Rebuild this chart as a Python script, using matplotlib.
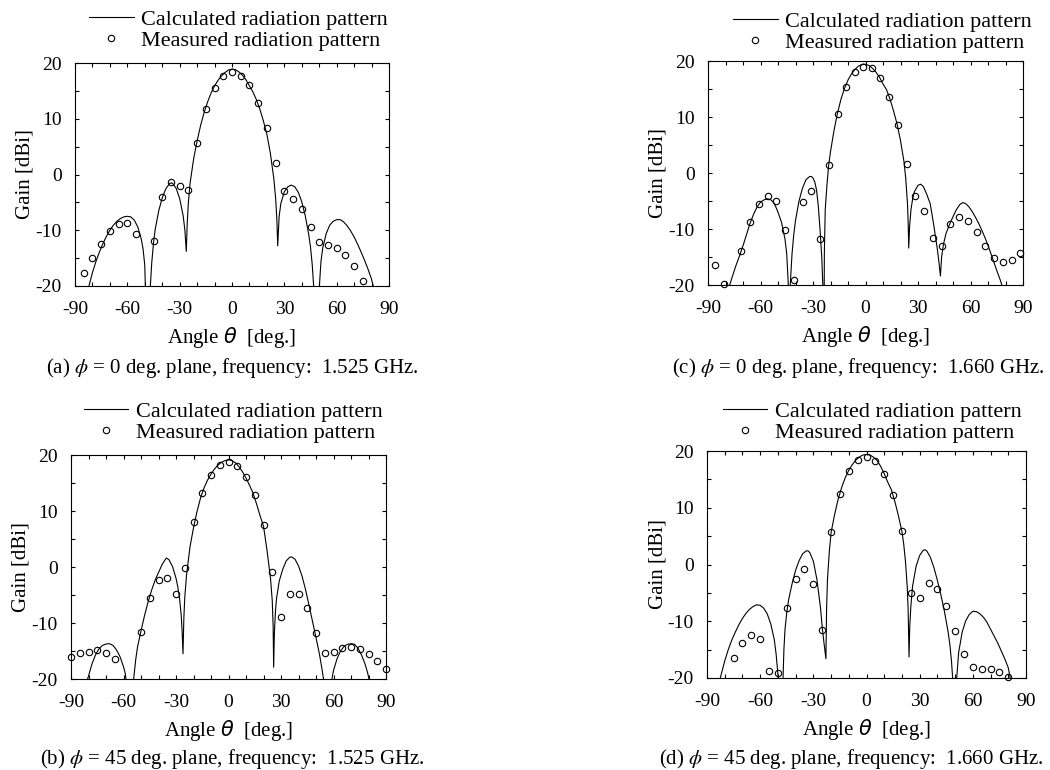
import matplotlib
matplotlib.use('Agg')
import matplotlib.pyplot as plt
from matplotlib.ticker import MultipleLocator

# (a) phi = 0 deg. plane, 1.525 GHz
thetaCalcA = [-84, -82, -80, -78, -76, -74, -72, -70, -68, -66, -64, -62, -60, -58, -56, -54, -52, -51, -50, -49.5, -48.5,
              -47.5, -46.8, -46, -45, -44, -42, -40, -38, -36, -35, -34, -32, -30, -28, -27, -26.2,
              -25.7, -25, -24, -22, -20, -18, -16, -14, -12, -10, -8, -6, -4, -2, 0, 2, 4, 6, 8, 10,
              12, 14, 16, 18, 20, 22, 24, 25, 25.7, 26.2,
              27, 28, 30, 32, 34, 36, 38, 40, 42, 44, 45, 46, 46.8, 47.5, 48.5,
              49.5, 50.1, 51, 52, 54, 56, 58, 60, 62, 64, 66, 68, 70, 72, 74, 76, 78, 80, 81.2, 82]
gainCalcA = [-24, -20, -17.6, -15.6, -13.9, -12.4, -11.1, -10.0, -9.1, -8.4, -7.9, -7.6, -7.5, -7.6, -8.2, -9.4, -11.6, -13.3, -16.3, -22, -45,
             -30, -20, -15.8, -12.3, -9.8, -6.5, -4.2, -2.6, -1.7, -1.5, -1.6, -2.5, -4.3, -7.4, -10.0, -13.8,
             -9.0, -5.0, -1.5, 2.8, 6.0, 8.8, 11.1, 13.0, 14.6, 15.9, 16.9, 17.7, 18.3, 18.75, 18.9, 18.8, 18.4, 17.8, 17.0, 15.9,
             14.8, 13.4, 11.7, 9.6, 7.2, 3.8, -0.8, -4.2, -8.0, -12.8,
             -7.6, -5.2, -3.1, -2.2, -1.9, -2.2, -3.2, -4.9, -7.4, -10.8, -13.0, -16.2, -20, -30, -45,
             -30, -20, -15.6, -13.2, -10.6, -9.1, -8.4, -8.1, -8.1, -8.5, -9.2, -10.1, -11.2, -12.5, -13.9, -15.4, -17.0, -18.8, -20.3, -24]
thetaMeasA = [-85, -80, -75, -70, -65, -60, -55, -45, -40, -35, -30, -25, -20, -15, -10, -5, 0,
              5, 10, 15, 20, 25, 30, 35, 40, 45, 50, 55, 60, 65, 70, 75]
gainMeasA = [-17.7, -14.9, -12.4, -10.1, -8.8, -8.7, -10.7, -11.9, -4.1, -1.4, -2.1, -2.7, 5.7, 11.8, 15.5, 17.6, 18.3,
             17.7, 16.1, 12.9, 8.3, 2.1, -3.0, -4.4, -6.2, -9.4, -12.1, -12.7, -13.1, -14.4, -16.5, -19.1]

# (b) phi = 45 deg. plane, 1.525 GHz
thetaCalcB = [-81.5, -80.5, -78, -76, -74, -72, -70, -68, -66, -64, -62, -60, -59, -58.4, -58,
              -55, -54.2, -53, -52, -50, -48, -46, -44, -42, -40, -38, -36, -35.5, -34, -32, -30, -29, -28, -27, -26.5, -26,
              -25.5, -25, -24, -22, -20, -18, -16, -14, -12, -10, -8, -6, -4, -2, 0, 2, 4, 6, 8, 10,
              12, 14, 16, 18, 20, 22, 24, 25, 25.5, 25.8,
              26.2, 26.8, 27.5, 29, 31, 33, 35, 36, 38, 40, 42, 44, 46, 48, 50, 52, 53.5, 54.4, 55,
              58.5, 59.1, 60, 62, 64, 66, 68, 70, 72, 74, 76, 78, 79.5, 80.5, 81]
gainCalcB = [-25, -20, -17.3, -15.7, -14.6, -14.0, -13.75, -13.7, -14.0, -14.8, -16.0, -17.8, -19.0, -20.5, -24,
             -26, -20, -16.5, -14.3, -11.4, -8.7, -6.3, -4.2, -2.4, -1.0, 0.4, 1.4, 1.6, 1.3, 0.1, -2.0, -3.5, -5.5, -8.7, -11.5, -15.5,
             -9.0, -5.5, -1.5, 3.6, 7.0, 9.9, 12.3, 14.1, 15.5, 16.6, 17.5, 18.2, 18.7, 19.0, 19.15, 19.0, 18.6, 17.9, 17.0, 15.9,
             14.6, 13.2, 11.3, 9.2, 7.3, 3.0, -2.0, -6.0, -10.5, -17.9,
             -12, -8, -5.5, -2.5, -0.4, 1.1, 1.75, 1.8, 1.4, 0.2, -1.6, -4.0, -6.8, -9.7, -12.6, -15.6, -18.4, -20.2, -25,
             -25, -20, -18.5, -16.4, -15.0, -14.2, -13.8, -13.7, -13.8, -14.5, -15.7, -17.3, -18.9, -20.3, -24]
thetaMeasB = [-90, -85, -80, -75, -70, -65, -50, -45, -40, -35, -30, -25, -20, -15, -10, -5, 0,
              5, 10, 15, 20, 25, 30, 35, 40, 45, 50, 55, 60, 65, 70, 75, 80, 85, 90]
gainMeasB = [-16.1, -15.4, -15.1, -14.9, -15.4, -16.5, -11.6, -5.5, -2.4, -1.95, -4.8, -0.1, 8.1, 13.2, 16.5, 18.2, 18.75,
             18.1, 16.1, 12.8, 7.5, -0.9, -9.0, -4.8, -4.8, -7.3, -11.7, -15.4, -15.2, -14.5, -14.3, -14.6, -15.6, -16.8, -18.2]

# (c) phi = 0 deg. plane, 1.660 GHz
thetaCalcC = [-78.5, -77.6, -76, -74, -72, -70, -68, -66, -64, -62, -60, -58, -56, -54, -52, -50, -48, -46, -45, -44.1, -43.6,
              -43, -42, -41, -40, -38, -36, -34, -32, -31, -30, -29, -28, -27, -26, -25, -24.4, -23.9,
              -23.5, -23, -22, -21, -20, -18, -16, -14, -12, -10, -8, -6, -4, -2, -1, 0, 2, 4, 6, 8,
              10, 12, 14, 16, 18, 20, 22, 23, 24, 24.4, 24.7,
              25.2, 26, 27, 28, 30, 31.5, 33, 35, 37, 39, 41, 42, 42.8,
              43.5, 44.5, 46, 48, 50, 52, 54, 55.5, 57, 59, 61, 63, 65, 67, 69, 71, 73, 75, 77, 78.2, 79]
gainCalcC = [-24, -20, -18.4, -16.5, -14.8, -13.0, -11.0, -9.0, -7.4, -6.1, -5.2, -4.8, -4.6, -4.8, -5.5, -7.0, -8.8, -11.8, -14.5, -20, -35,
             -20, -14.5, -11.0, -8.5, -5.0, -2.7, -1.2, -0.65, -0.6, -0.9, -1.6, -3.0, -5.8, -10.0, -15.0, -20, -40,
             -14, -6.5, -2.0, 1.5, 3.8, 7.6, 10.7, 13.2, 15.1, 16.6, 17.7, 18.5, 19.1, 19.4, 19.45, 19.4, 19.2, 18.7, 18.0, 17.1,
             15.9, 14.9, 13.2, 11.1, 8.8, 5.8, 2.0, -1.0, -5.5, -9.0, -13.4,
             -9.5, -6.5, -4.5, -3.3, -2.2, -2.0, -2.4, -3.8, -5.5, -9.3, -13.5, -16.0, -18.4,
             -15.0, -12.8, -10.8, -9.2, -7.8, -6.5, -5.6, -5.3, -5.4, -6.0, -6.9, -8.0, -9.2, -10.6, -12.1, -13.8, -15.6, -17.4, -19.1, -20.3, -24]
thetaMeasC = [-86, -81, -71, -66, -61, -56, -51, -46, -41, -36, -31, -26, -21, -16, -11, -6, -1.5,
              3.5, 8.5, 13.5, 18.5, 23.5, 28.5, 33.5, 38.5, 43.5, 48.5, 53.5, 58.5, 63.5, 68.5, 73.5, 78.5, 83.5, 88.5]
gainMeasC = [-16.5, -19.8, -13.9, -8.8, -5.6, -4.1, -5.0, -10.2, -19.1, -5.2, -3.2, -11.8, 1.4, 10.5, 15.35, 18.1, 19.0,
             18.7, 17.0, 13.6, 8.55, 1.6, -4.1, -6.7, -11.6, -13.0, -9.1, -7.8, -8.5, -10.5, -13.0, -15.1, -15.9, -15.5, -14.2]

# (d) phi = 45 deg. plane, 1.660 GHz
thetaCalcD = [-83.5, -82.5, -80, -78, -76, -74, -72, -70, -68, -66, -64, -62, -60, -58, -56, -54, -52, -51, -50, -49.6, -49,
              -47.8, -47.1, -46.6, -46, -45, -44, -42, -40, -38, -36, -34, -33, -32, -30, -28, -26, -25, -24, -22.9,
              -22.5, -22, -21, -20, -18, -16, -14, -12, -10, -8, -6, -4, -2, 0, 2, 4, 6, 8, 10, 12,
              14, 16, 18, 20, 21, 22, 23, 23.5, 24,
              24.4, 25, 26, 28, 30, 32, 33, 34, 36, 38, 40, 42, 44, 46, 47, 48, 48.6, 49,
              50.4, 50.9, 52, 54, 56, 58, 60, 62, 64, 66, 68, 70, 72, 74, 76, 78, 80, 81.3, 82]
gainCalcD = [-25, -20, -17.0, -15.0, -13.3, -11.9, -10.6, -9.5, -8.6, -7.9, -7.4, -7.1, -7.2, -7.7, -8.7, -10.5, -13.3, -15.8, -19.3, -22, -35,
             -30, -20, -15, -11.5, -8.5, -6.3, -3.4, -1.0, 0.7, 1.9, 2.4, 2.4, 2.1, 0.6, -2.6, -7.5, -11.0, -13.8, -16.6,
             -7.5, -2.5, 2.2, 5.6, 8.8, 11.5, 13.6, 15.3, 16.6, 17.6, 18.4, 18.95, 19.3, 19.4, 19.3, 18.9, 18.3, 17.3, 16.0, 14.5,
             13.2, 11.1, 8.6, 5.8, 3.6, 0.5, -4.0, -8.0, -16.3,
             -11, -7.5, -3.8, -0.3, 1.6, 2.5, 2.6, 2.4, 1.3, -0.5, -2.8, -5.4, -8.3, -11.8, -14.0, -17.2, -20, -26,
             -25, -20, -15.5, -11.9, -9.9, -8.8, -8.25, -8.3, -8.7, -9.3, -10.2, -11.4, -12.6, -13.8, -15.2, -16.6, -18.2, -20.3, -24]
thetaMeasD = [-75, -70, -65, -60, -55, -50, -45, -40, -35, -30, -25, -20, -15, -10, -5, 0,
              5, 10, 15, 20, 25, 30, 35, 40, 45, 50, 55, 60, 65, 70, 75, 80]
gainMeasD = [-16.4, -13.8, -12.5, -13.2, -18.8, -19.2, -7.7, -2.55, -0.8, -3.4, -11.5, 5.8, 12.5, 16.4, 18.5, 19.0,
             18.2, 16.0, 12.2, 5.9, -5.0, -5.9, -3.2, -4.3, -7.4, -11.7, -15.8, -18.1, -18.4, -18.5, -18.9, -19.8]

captions = ['(a) $\\phi$ = 0 deg. plane, frequency:  1.525 GHz.',
            '(b) $\\phi$ = 45 deg. plane, frequency:  1.525 GHz.',
            '(c) $\\phi$ = 0 deg. plane, frequency:  1.660 GHz.',
            '(d) $\\phi$ = 45 deg. plane, frequency:  1.660 GHz.']

plt.rcParams['font.family'] = 'serif'
plt.rcParams['font.serif'] = ['Liberation Serif', 'DejaVu Serif']
plt.rcParams['mathtext.fontset'] = 'dejavusans'
plt.rcParams['axes.unicode_minus'] = False

W, H = 1050, 770


def drawPanel(fig, box, thetaCalc, gainCalc, thetaMeas, gainMeas, legendX, legendGap, caption, captionX, captionY):
    # box is (left, top, right, bottom) in pixels
    left, top, right, bottom = box
    axw = right - left
    axh = bottom - top
    ax = fig.add_axes([left / W, 1 - bottom / H, axw / W, axh / H])
    ax.plot(thetaCalc, gainCalc, color='black', lw=0.8, label='Calculated radiation pattern')
    ax.plot(thetaMeas, gainMeas, ls='none', marker='o', ms=4.6, mfc='none', mec='black', mew=0.8,
            clip_on=False, label='Measured radiation pattern')
    ax.set_xlim(-90, 90)
    ax.set_ylim(-20, 20)
    ax.xaxis.set_major_locator(MultipleLocator(30))
    ax.xaxis.set_minor_locator(MultipleLocator(10))
    ax.yaxis.set_major_locator(MultipleLocator(10))
    ax.yaxis.set_minor_locator(MultipleLocator(5))
    ax.tick_params(which='both', direction='in', top=True, right=True, length=3, width=0.8)
    ax.tick_params(axis='x', which='major', labelsize=14, pad=10.5)
    ax.tick_params(axis='y', which='major', labelsize=14, pad=9.5)
    for s in ax.spines.values():
        s.set_linewidth(0.8)

    ax.set_xlabel('Angle $\\theta$  [deg.]', fontsize=15)
    ax.xaxis.set_label_coords(0.5, -39 / axh)
    ax.set_ylabel('Gain [dBi]', fontsize=15)
    ax.yaxis.set_label_coords(-40 / axw, 0.5)

    ax.legend(loc='lower right', bbox_to_anchor=(legendX, 1 + legendGap / axh), frameon=False, fontsize=16,
              handlelength=2.0, handletextpad=0.35, labelspacing=0.03, borderpad=0, borderaxespad=0, numpoints=1)

    fig.text(captionX / W, 1 - captionY / H, caption, ha='center', va='center', fontsize=15, math_fontfamily='stix')
    return ax


fig = plt.figure(figsize=(10.5, 7.7), dpi=100)
drawPanel(fig, (75, 63, 389, 286), thetaCalcA, gainCalcA, thetaMeasA, gainMeasA, 0.997, 12, captions[0], 232, 368)
drawPanel(fig, (71, 455, 386, 679), thetaCalcB, gainCalcB, thetaMeasB, gainMeasB, 0.99, 12, captions[1], 232, 759)
drawPanel(fig, (708, 61, 1023, 285), thetaCalcC, gainCalcC, thetaMeasC, gainMeasC, 1.029, 8, captions[2], 858, 368)
drawPanel(fig, (707, 451, 1026, 678), thetaCalcD, gainCalcD, thetaMeasD, gainMeasD, 0.987, 8, captions[3], 851, 759)

fig.savefig('out.png', dpi=100)
